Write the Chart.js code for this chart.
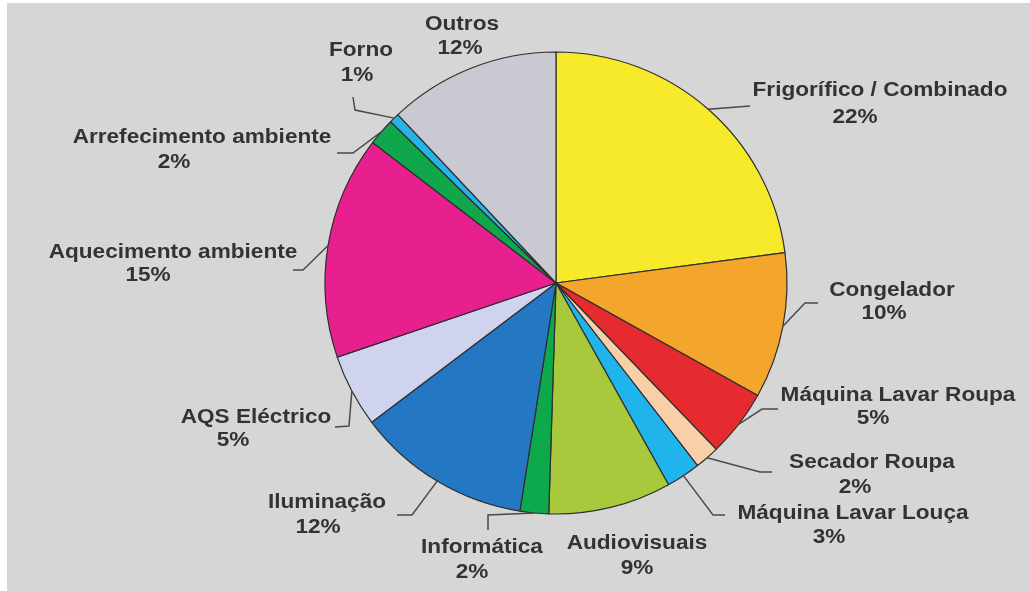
<!DOCTYPE html>
<html>
<head>
<meta charset="utf-8">
<script src="https://cdn.jsdelivr.net/npm/chart.js@4"></script>
<style>
  body { margin: 0; background: #fff; }
  #pieChart { display: block; }
</style>
</head>
<body>
<canvas id="pieChart" width="1030" height="591"></canvas>
<script>
// consumo por equipamento (%), a partir das 12h no sentido dos ponteiros
var categories = ["Frigorífico / Combinado", "Congelador", "Máquina Lavar Roupa", "Secador Roupa",
  "Máquina Lavar Louça", "Audiovisuais", "Informática", "Iluminação", "AQS Eléctrico",
  "Aquecimento ambiente", "Arrefecimento ambiente", "Forno", "Outros"];
var values = [22.9, 10.2, 4.7, 1.7, 2.4, 8.6, 2.0, 12.2, 5.1, 15.6, 1.9, 0.7, 12.0];
var pctLabels = ["22%", "10%", "5%", "2%", "3%", "9%", "2%", "12%", "5%", "15%", "2%", "1%", "12%"];
var colors = ["#f6ea2b", "#f3a52c", "#e52b2f", "#f8cfa6", "#1fb5ec", "#a8c93c", "#0fa94d",
  "#2477c3", "#d0d3ee", "#e8208f", "#10a64c", "#25b3e9", "#c9cad1"];

// posição dos rótulos, relativa ao centro da tarte: [nome], [percentagem], pontos da linha guia
var labelLayout = [
  { t1: [324, -193], t2: [299, -166], line: [[194, -177]] },
  { t1: [336, 7], t2: [328, 30], line: [[249, 20], [262, 20]] },
  { t1: [342, 112], t2: [317, 135], line: [[206, 126], [222, 126]] },
  { t1: [316, 179], t2: [299, 204], line: [[204, 189], [216, 189]] },
  { t1: [297, 230], t2: [273, 254], line: [[157, 232], [169, 232]] },
  { t1: [81, 260], t2: [81, 285], line: [] },
  { t1: [-74, 264], t2: [-84, 289], line: [[-68, 232], [-68, 247]] },
  { t1: [-229, 219], t2: [-238, 244], line: [[-144, 232], [-159, 232]] },
  { t1: [-300, 134], t2: [-323, 157], line: [[-207, 143], [-221, 144]] },
  { t1: [-383, -31], t2: [-408, -8], line: [[-253, -13], [-263, -13]] },
  { t1: [-354, -146], t2: [-382, -121], line: [[-203, -130], [-219, -130]] },
  { t1: [-195, -233], t2: [-199, -208], line: [[-201, -173], [-203, -186]] },
  { t1: [-94, -259], t2: [-96, -235], line: [] }
];

var background = {
  id: "background",
  beforeDraw: function (chart) {
    var ctx = chart.ctx;
    ctx.save();
    ctx.fillStyle = "#d6d6d6";
    ctx.fillRect(7, 3, chart.width - 7, chart.height - 3);
    ctx.restore();
  }
};

function drawText(ctx, txt, x, y) {
  ctx.save();
  ctx.translate(x, y);
  ctx.scale(1.13, 1);
  ctx.fillText(txt, 0, 0);
  ctx.restore();
}

var outsideLabels = {
  id: "outsideLabels",
  afterDraw: function (chart) {
    var ctx = chart.ctx;
    var arcs = chart.getDatasetMeta(0).data;
    ctx.save();
    ctx.strokeStyle = "#4a4a4a";
    ctx.lineWidth = 1.5;
    ctx.fillStyle = "#333";
    ctx.font = "bold 20px 'Liberation Sans', Arial, sans-serif";
    ctx.textAlign = "center";
    ctx.textBaseline = "middle";
    arcs.forEach(function (arc, i) {
      var p = arc.getProps(["x", "y", "startAngle", "endAngle", "outerRadius"], true);
      var lay = labelLayout[i];
      if (lay.line.length) {
        var mid = (p.startAngle + p.endAngle) / 2;
        ctx.beginPath();
        ctx.moveTo(p.x + Math.cos(mid) * p.outerRadius, p.y + Math.sin(mid) * p.outerRadius);
        lay.line.forEach(function (pt) { ctx.lineTo(p.x + pt[0], p.y + pt[1]); });
        ctx.stroke();
      }
      drawText(ctx, categories[i], p.x + lay.t1[0], p.y + lay.t1[1]);
      drawText(ctx, pctLabels[i], p.x + lay.t2[0], p.y + lay.t2[1]);
    });
    ctx.restore();
  }
};

var ctxP = document.getElementById("pieChart").getContext("2d");
var myPieChart = new Chart(ctxP, {
  type: "pie",
  data: {
    labels: categories,
    datasets: [
      {
        data: values,
        backgroundColor: colors,
        borderColor: "#2e2e2e",
        borderWidth: 1.2,
        hoverOffset: 0
      }
    ]
  },
  options: {
    responsive: false,
    animation: false,
    radius: 231,
    layout: { padding: { left: 325, right: 243, top: 52, bottom: 77 } },
    plugins: {
      legend: { display: false },
      tooltip: { enabled: false }
    }
  },
  plugins: [background, outsideLabels]
});
</script>
</body>
</html>
